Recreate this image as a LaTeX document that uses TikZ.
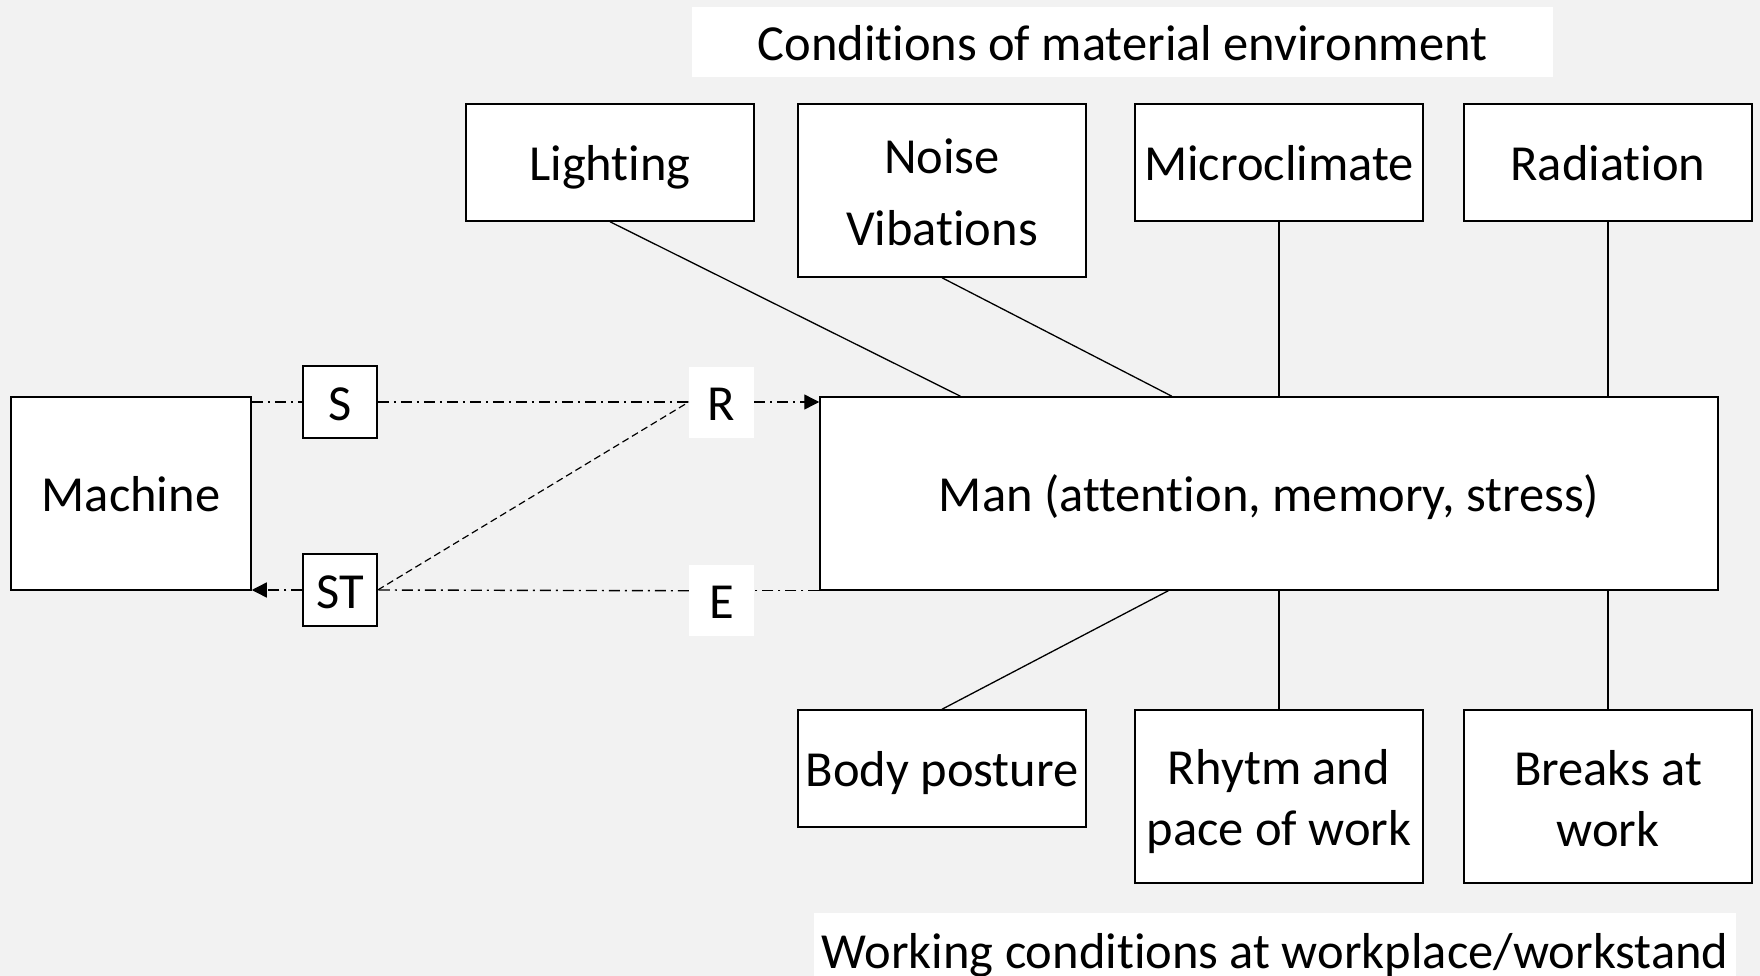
\documentclass[tikz,border=0pt]{standalone}
\usepackage{fontspec}
\setmainfont{Carlito}[Ligatures=NoCommon]
\usepackage{tikz}
\usetikzlibrary{arrows.meta,calc}
\definecolor{bggray}{HTML}{F2F2F2}
\newcommand{\firstline}{\rule{0pt}{0.9em}}
\newcommand{\lastline}{\rule[-0.13em]{0pt}{0pt}}

\begin{document}
\begin{tikzpicture}[x=1pt, y=-1pt,
    box/.style={rectangle, draw, line width=1.5pt, fill=white, align=center, inner sep=0pt, font=\fontsize{50.5}{61}\selectfont},
    caption/.style={rectangle, fill=white, inner sep=0pt, font=\fontsize{50.5}{61}\selectfont},
    oneline/.style={text height=40.5pt, text depth=4pt},
    link/.style={line width=1.3pt},
    sig/.style={line width=1.4pt, dash pattern=on 11pt off 5pt on 2pt off 5pt},
    guess/.style={line width=1.2pt, dash pattern=on 7pt off 4pt},
    tip/.style={-{Triangle[length=15pt,width=15pt]}}]
    \useasboundingbox (0,0) rectangle (1760,976);
    \clip (0,0) rectangle (1760,976);
    \fill[bggray] (0,0) rectangle (1760,976);

    \node[caption, oneline, minimum width=861pt, minimum height=70pt] (envtitle) at (1122.5,42) {Conditions of material environment};
    \node[box, oneline, minimum width=288pt, minimum height=117pt] (lighting) at (610,162.5) {Lighting};
    \node[box, minimum width=288pt, minimum height=173pt] (noise) at (942,190.5) {\firstline Noise\\[11pt]Vibations\lastline};
    \node[box, oneline, minimum width=288pt, minimum height=117pt] (micro) at (1279,162.5) {Microclimate};
    \node[box, oneline, minimum width=288pt, minimum height=117pt] (radiation) at (1608,162.5) {Radiation};

    \node[box, oneline, minimum width=898pt, minimum height=193pt] (man) at (1269,493.5) {Man (attention, memory, stress)};
    \node[box, oneline, minimum width=240pt, minimum height=193pt] (machine) at (131,493.5) {Machine};
    \node[box, oneline, minimum width=74pt, minimum height=72pt] (s) at (340,402) {S};
    \node[box, oneline, minimum width=74pt, minimum height=72pt] (st) at (340,590) {ST};
    \node[caption, oneline, minimum width=65pt, minimum height=71pt] (r) at (721.5,402) {R};
    \node[caption, oneline, minimum width=65pt, minimum height=71pt] (e) at (721.5,600) {E};

    \node[box, oneline, minimum width=288pt, minimum height=117pt] (posture) at (942,768.5) {Body posture};
    \node[box, minimum width=288pt, minimum height=173pt] (rhythm) at (1279,796.5) {\firstline Rhytm and\\pace of work\lastline};
    \node[box, minimum width=288pt, minimum height=173pt] (breaks) at (1608,796.5) {\firstline Breaks at\\work\lastline};
    \node[caption, oneline, minimum width=922pt, minimum height=74pt, anchor=north] (worktitle) at (1275,913) {Working conditions at workplace/workstand};

    \draw[link] (lighting.south) -- ($(man.north west)!0.157!(man.north east)$);
    \draw[link] (noise.south) -- ($(man.north west)!0.392!(man.north east)$);
    \draw[link] (micro.south) -- (micro.south |- man.north);
    \draw[link] (radiation.south) -- (radiation.south |- man.north);
    \draw[link] ($(man.south west)!0.388!(man.south east)$) -- (posture.north);
    \draw[link] (rhythm.north |- man.south) -- (rhythm.north);
    \draw[link] (breaks.north |- man.south) -- (breaks.north);

    \draw[sig] (s.west -| machine.east) -- (s.west);
    \draw[sig] (s.east) -- (r.west);
    \draw[sig, tip] (r.east) -- (r.east -| man.west);
    \draw[sig] (man.south west) -- (man.south west -| e.east);
    \draw[sig] (e.west |- man.south west) -- (st.east);
    \draw[sig, tip] (st.west) -- (st.west -| machine.east);
    \draw[guess] (st.east) -- (r.west);
\end{tikzpicture}
\end{document}
